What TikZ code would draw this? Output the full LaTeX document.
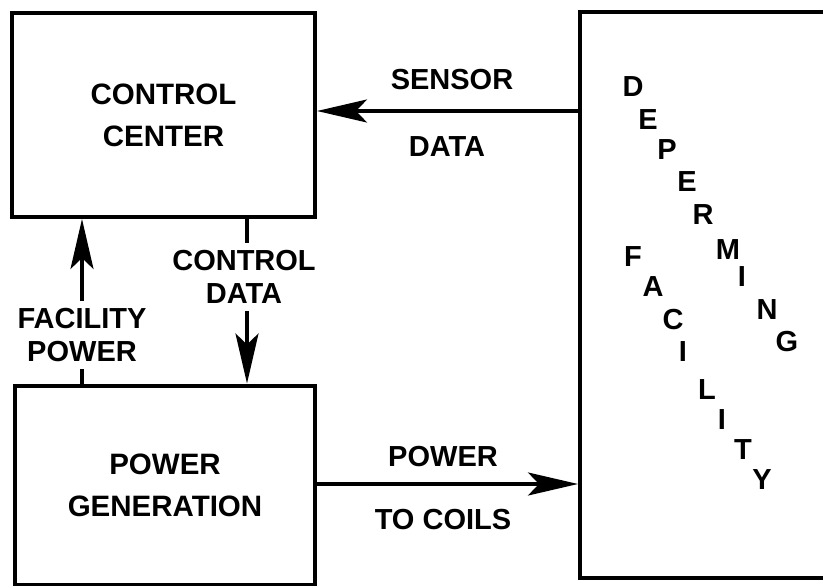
\documentclass[tikz,border=0pt]{standalone}
\usepackage{fontspec}
\setmainfont{Liberation Sans}
\usetikzlibrary{arrows.meta,positioning}

\begin{document}
\begin{tikzpicture}[x=1pt,y=-1pt,
  box/.style={draw,line width=4pt,align=center,font=\bfseries\fontsize{29.5}{42}\selectfont},
  wire/.style={line width=3.2pt},
  arr/.style={wire,-{Stealth[length=50pt,width=23pt,inset=11pt]}},
  lbl/.style={font=\bfseries\fontsize{29}{33}\selectfont,align=center,inner sep=7pt}]
\useasboundingbox (0,0) rectangle (823,586);
% blocks
\node[box,minimum width=303pt,minimum height=204pt] (cc) at (163.5,115) {CONTROL\\CENTER};
\node[box,minimum width=300pt,minimum height=199pt] (pg) at (165,485) {POWER\\GENERATION};
\node[box,minimum width=270pt,minimum height=566pt] (df) at (715,295) {};
% sensor data
\draw[arr] (df.west |- 0,111) -- (cc.east |- 0,111);
\node[lbl] (sens) at (452,80) {SENSOR};
\node[lbl] (sdat) at (447,147) {DATA};
% control data
\node[lbl] (cdat) at (244,277) {CONTROL\\DATA};
\draw[wire] (cc.south -| 247,0) -- (cdat.north -| 247,0);
\draw[arr] (cdat.south -| 247,0) -- (pg.north -| 247,0);
% facility power
\node[lbl] (fpow) at (82,335) {FACILITY\\POWER};
\draw[arr] (fpow.north) -- (cc.south -| fpow);
\draw[wire] (pg.north -| fpow) -- (fpow.south);
% power to coils
\draw[arr] (pg.east |- 0,484) -- (df.west |- 0,484);
\node[lbl] (pwr) at (443,457) {POWER};
\node[lbl] (tcoil) at (443,520) {TO COILS};
% facility name, set on a slant
\foreach \l/\x/\y [count=\i] in {D/633/87,E/648/120,P/667/150,E/687/182,R/703/215,M/728/250,I/742/277,N/767/310,G/787/342}
  \node[lbl,inner sep=0pt] (dep\i) at (\x,\y) {\l};
\foreach \l/\x/\y [count=\i] in {F/633/257,A/653/287,C/673/320,I/683/352,L/707/390,I/722/420,T/743/450,Y/762/480}
  \node[lbl,inner sep=0pt] (fac\i) at (\x,\y) {\l};
\end{tikzpicture}
\end{document}
